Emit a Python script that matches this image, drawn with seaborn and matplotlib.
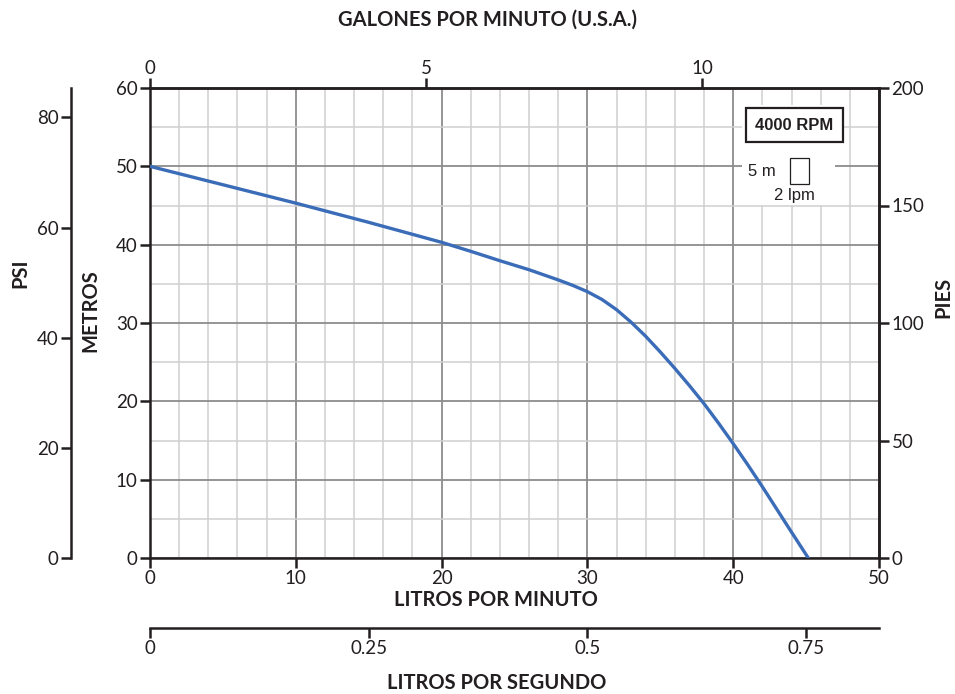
import numpy as np
import pandas as pd
import matplotlib
matplotlib.use('Agg')
import matplotlib.pyplot as plt
from matplotlib.patches import Rectangle
from matplotlib.ticker import MultipleLocator
import seaborn as sns

# ── Curve data ───────────────────────────────────────────────────
lpm    = [0, 5, 10, 15, 20, 22, 24, 26, 28, 29, 30, 31, 32, 33, 34, 35, 36, 37,
          38, 39, 40, 41, 42, 43, 44, 45.15]
metros = [50, 47.65, 45.3, 42.85, 40.3, 39.15, 37.95, 36.8, 35.5, 34.8, 34.0, 33.0,
          31.7, 30.1, 28.3, 26.3, 24.2, 22.0, 19.7, 17.2, 14.6, 11.9, 9.1, 6.2, 3.3, 0]

rpm_label   = '4000 RPM'
gpm_ticks   = [0, 5, 10]
lps_ticks   = [0, 0.25, 0.5, 0.75]
lps_labels  = ['0', '0.25', '0.5', '0.75']
psi_ticks   = [0, 20, 40, 60, 80]
pies_ticks  = [0, 50, 100, 150, 200]

df = pd.DataFrame({'lpm': lpm, 'metros': metros})

# ── Style ─────────────────────────────────────────────────────────
sns.set_style('white')
plt.rcParams['font.family'] = ['Lato', 'DejaVu Sans']
INK  = '#231f20'
BLUE = '#3a6cb8'
SPINE_W = 1.8
TICK_FS = 13.5
LABEL_FS = 14.5
W, H = 955, 694

fig = plt.figure(figsize=(W / 100, H / 100), dpi=100)
ax = fig.add_axes([150/W, 1-558/H, 729/W, 470/H])


def px_text(x, y, s, **kw):
    """Place a figure label by pixel position (origin top-left)."""
    fig.text(x / W, 1 - y / H, s, ha='center', va='center', fontsize=LABEL_FS,
             fontweight='bold', color=INK, **kw)


# grid
ax.set_xlim(0, 50)
ax.set_ylim(0, 60)
ax.xaxis.set_major_locator(MultipleLocator(10))
ax.xaxis.set_minor_locator(MultipleLocator(2))
ax.yaxis.set_major_locator(MultipleLocator(10))
ax.yaxis.set_minor_locator(MultipleLocator(5))
ax.set_axisbelow(True)
ax.grid(which='major', color='#8c8c8c', linewidth=1.3)
ax.grid(which='minor', color='#d0d0d0', linewidth=1.1)

# white patch behind the legend area
ax.add_patch(Rectangle((0.812, 0.751), 0.128, 0.213, transform=ax.transAxes,
                       facecolor='white', edgecolor='none', zorder=1))

sns.lineplot(data=df, x='lpm', y='metros', ax=ax, color=BLUE, linewidth=2.4,
             zorder=3, legend=False)

for s in ax.spines.values():
    s.set_color(INK)
    s.set_linewidth(SPINE_W)
ax.tick_params(which='major', direction='out', length=7, width=SPINE_W, color=INK,
               labelsize=TICK_FS, labelcolor=INK, pad=2)
ax.tick_params(which='minor', length=0)
ax.tick_params(axis='y', right=False)
ax.set_xlabel('')
ax.set_ylabel('')

# legend text + scale box
ax.text(0.884, 0.921, rpm_label, transform=ax.transAxes, ha='center', va='center',
        fontsize=12, fontweight='bold', family='Liberation Sans', color=INK, zorder=4,
        bbox=dict(boxstyle='square,pad=0.55', facecolor='white', edgecolor=INK, linewidth=1.6))
ax.add_patch(Rectangle((0.878, 0.796), 0.026, 0.055, transform=ax.transAxes,
                       facecolor='white', edgecolor=INK, linewidth=0.9, zorder=4))
ax.text(0.858, 0.823, '5 m', transform=ax.transAxes, ha='right', va='center',
        fontsize=12, family='Liberation Sans', color=INK, zorder=4)
ax.text(0.884, 0.771, '2 lpm', transform=ax.transAxes, ha='center', va='center',
        fontsize=12, family='Liberation Sans', color=INK, zorder=4)

# ── PSI (outer left) ──────────────────────────────────────────────
ax_psi = ax.twinx()
ax_psi.set_ylim(0, 60 * 1.4223)
ax_psi.set_yticks(psi_ticks)
for k in ('top', 'bottom', 'right'):
    ax_psi.spines[k].set_visible(False)
ax_psi.spines['left'].set_visible(True)
ax_psi.spines['left'].set_position(('axes', -79/729))
ax_psi.spines['left'].set_color(INK)
ax_psi.spines['left'].set_linewidth(SPINE_W)
ax_psi.yaxis.set_ticks_position('left')
ax_psi.tick_params(direction='out', length=7, width=SPINE_W, color=INK,
                   labelsize=TICK_FS, labelcolor=INK, pad=2)

# ── PIES (right) ──────────────────────────────────────────────────
ax_ft = ax.twinx()
ax_ft.set_ylim(0, 200)
ax_ft.set_yticks(pies_ticks)
for k in ('top', 'bottom', 'left'):
    ax_ft.spines[k].set_visible(False)
ax_ft.spines['right'].set_color(INK)
ax_ft.spines['right'].set_linewidth(SPINE_W)
ax_ft.tick_params(direction='out', length=7, width=SPINE_W, color=INK,
                  labelsize=TICK_FS, labelcolor=INK, pad=2)

# ── GPM (top) ─────────────────────────────────────────────────────
ax_gpm = ax.twiny()
ax_gpm.set_xlim(0, 50 / 3.7854)
ax_gpm.set_xticks(gpm_ticks)
for k in ('bottom', 'left', 'right'):
    ax_gpm.spines[k].set_visible(False)
ax_gpm.spines['top'].set_color(INK)
ax_gpm.spines['top'].set_linewidth(SPINE_W)
ax_gpm.tick_params(direction='out', length=7, width=SPINE_W, color=INK,
                   labelsize=TICK_FS, labelcolor=INK, pad=1)

# ── LPS (outer bottom) ────────────────────────────────────────────
ax_lps = ax.twiny()
ax_lps.set_xlim(0, 50 / 60)
ax_lps.set_xticks(lps_ticks)
ax_lps.set_xticklabels(lps_labels)
for k in ('top', 'left', 'right'):
    ax_lps.spines[k].set_visible(False)
ax_lps.spines['bottom'].set_visible(True)
ax_lps.spines['bottom'].set_position(('axes', -70/470))
ax_lps.spines['bottom'].set_color(INK)
ax_lps.spines['bottom'].set_linewidth(SPINE_W)
ax_lps.xaxis.set_ticks_position('bottom')
ax_lps.tick_params(direction='out', length=7, width=SPINE_W, color=INK,
                   labelsize=TICK_FS, labelcolor=INK, pad=2)

# ── axis titles (positioned like the original, off-centre) ────────
px_text(487, 20, 'GALONES POR MINUTO (U.S.A.)')
px_text(496, 600, 'LITROS POR MINUTO')
px_text(497, 683, 'LITROS POR SEGUNDO')
px_text(20, 273, 'PSI', rotation=90)
px_text(90, 311, 'METROS', rotation=90)
px_text(943, 297, 'PIES', rotation=90)

fig.savefig('out.png', dpi=100)
